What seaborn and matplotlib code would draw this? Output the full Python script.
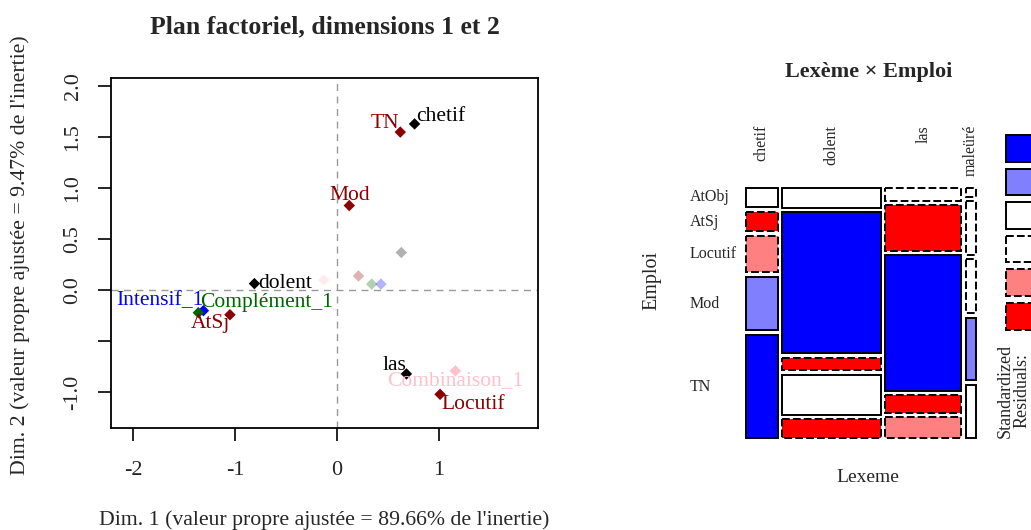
import matplotlib
matplotlib.use("Agg")
import matplotlib.pyplot as plt
import seaborn as sns
import pandas as pd
from matplotlib.patches import Rectangle

# --- plan factoriel (dimensions 1 et 2) ---
point_names = ["chetif", "dolent", "las", "maleüré",
               "TN", "Mod", "AtSj", "Locutif", "AtObj",
               "Intensif_1", "Intensif_0",
               "Complément_1", "Complément_0",
               "Combinaison_1", "Combinaison_0"]
point_groups = (["Lexeme"] * 4 + ["Emploi"] * 5 + ["Intensif"] * 2
                + ["Complement"] * 2 + ["Combinaison"] * 2)
dim1 = [0.76, -0.81, 0.68, 0.63, 0.62, 0.12, -1.05, 1.01, 0.21,
        -1.31, 0.43, -1.36, 0.34, 1.16, -0.13]
dim2 = [1.63, 0.065, -0.82, 0.37, 1.55, 0.83, -0.24, -1.02, 0.14,
        -0.20, 0.06, -0.22, 0.06, -0.79, 0.10]
labelled = [True, True, True, False, True, True, True, True, False,
            True, False, True, False, True, False]

x_ticks = [-2, -1, 0, 1]
y_ticks = [-1.0, -0.5, 0.0, 0.5, 1.0, 1.5, 2.0]
y_tick_labels = ["-1.0", "", "0.0", "0.5", "1.0", "1.5", "2.0"]

# --- mosaique Lexeme x Emploi ---
lexemes = ["chetif", "dolent", "las", "maleüré"]
emplois = ["AtObj", "AtSj", "Locutif", "Mod", "TN"]
counts = {
    "chetif": [7, 7, 13, 19, 37],
    "dolent": [22, 156, 14, 44, 21],
    "las": [11, 39, 116, 15, 18],
    "maleüré": [1, 6, 6, 7, 6],
}
residuals = {
    "chetif": [0.8, -4.3, -2.6, 2.9, 6.1],
    "dolent": [1.2, 6.8, -5.9, 1.1, -4.6],
    "las": [-1.0, -4.4, 8.2, -4.1, -2.5],
    "maleüré": [-0.3, -0.9, -1.2, 2.3, 1.0],
}
legend_levels = [5, 3, 1, -1, -3, -5]

palette = {"Lexeme": "black", "Emploi": "#8B0000", "Intensif": "#0000FF",
           "Complement": "#006400", "Combinaison": "#FFC0CB"}

# placement des etiquettes (decalage en points, alignement)
label_pos = {
    "chetif": ((1, 5), "left"),
    "dolent": ((2.5, 0), "left"),
    "las": ((0, 6), "right"),
    "TN": ((-1, 6), "right"),
    "Mod": ((0, 7), "center"),
    "AtSj": ((0, -6), "right"),
    "Locutif": ((1, -7), "left"),
    "Intensif_1": ((0, 7), "right"),
    "Complément_1": ((1, 7), "left"),
    "Combinaison_1": ((0, -7), "center"),
}

sns.set_style("ticks")
plt.rcParams["font.family"] = ["Liberation Serif", "DejaVu Serif"]

W, H = 1031, 530
fig = plt.figure(figsize=(W / 100, H / 100), dpi=100)


def fx(px):
    return px / W


def fy(py):
    return 1 - py / H


df = pd.DataFrame({"name": point_names, "group": point_groups,
                   "dim1": dim1, "dim2": dim2, "labelled": labelled})

ax = fig.add_axes([fx(111), fy(428), fx(538) - fx(111), fy(78) - fy(428)])
ax.axhline(0, color="#999999", lw=1, ls=(0, (5, 4)), zorder=0)
ax.axvline(0, color="#999999", lw=1, ls=(0, (5, 4)), zorder=0)
sns.scatterplot(data=df[~df["labelled"]], x="dim1", y="dim2", hue="group",
                palette=palette, marker="D", s=34, linewidth=0, alpha=0.3,
                legend=False, ax=ax)
sns.scatterplot(data=df[df["labelled"]], x="dim1", y="dim2", hue="group",
                palette=palette, marker="D", s=34, linewidth=0,
                legend=False, ax=ax)
for _, row in df[df["labelled"]].iterrows():
    off, ha = label_pos[row["name"]]
    ax.annotate(row["name"], (row["dim1"], row["dim2"]), xytext=off,
                textcoords="offset points", ha=ha, va="center",
                fontsize=15.5, color=palette[row["group"]])

ax.set_xlim(-2.216, 1.97)
ax.set_ylim(-1.35, 2.08)
ax.set_xticks(x_ticks)
ax.set_xticklabels([str(t) for t in x_ticks])
ax.set_yticks(y_ticks)
ax.set_yticklabels(y_tick_labels, rotation=90, va="center")
ax.tick_params(axis="both", length=9.5, width=1.2, labelsize=16, color="black")
ax.tick_params(axis="x", pad=14)
ax.tick_params(axis="y", pad=11)
for s in ax.spines.values():
    s.set_linewidth(1.3)
    s.set_color("black")
ax.set_xlabel("")
ax.set_ylabel("")
fig.text(fx(325), fy(27), "Plan factoriel, dimensions 1 et 2", ha="center",
         va="center", fontsize=18.5, fontweight="bold")
fig.text(fx(324), fy(520), "Dim. 1 (valeur propre ajustée = 89.66% de l'inertie)",
         ha="center", va="center", fontsize=15.7)
fig.text(fx(20), fy(255), "Dim. 2 (valeur propre ajustée = 9.47% de l'inertie)",
         ha="center", va="center", rotation=90, fontsize=15.7)


# --- mosaique ---
def shade(r):
    if r > 4:
        return "#0000FF", "-"
    if r > 2:
        return "#8080FF", "-"
    if r >= 0:
        return "white", "-"
    if r > -2:
        return "white", (0, (4, 1.6))
    if r > -4:
        return "#FF8080", (0, (4, 1.6))
    return "#FF0000", (0, (4, 1.6))


mx0, mx1, my0, my1 = 745.7, 975.7, 187.7, 438.3
max_ = fig.add_axes([fx(mx0), fy(my1), fx(mx1) - fx(mx0), fy(my0) - fy(my1)])
max_.set_xlim(0, 1)
max_.set_ylim(1, 0)
max_.axis("off")

gap_x, gap_y = 0.0188, 0.0186
totals = [sum(counts[l]) for l in lexemes]
grand = sum(totals)
avail_x = 1 - gap_x * (len(lexemes) - 1)
avail_y = 1 - gap_y * (len(emplois) - 1)
x = 0
row_centres = []
col_centres = []
for i, lex in enumerate(lexemes):
    w = avail_x * totals[i] / grand
    y = 0
    for j, emp in enumerate(emplois):
        h = avail_y * counts[lex][j] / totals[i]
        fc, ls = shade(residuals[lex][j])
        max_.add_patch(Rectangle((x, y), w, h, facecolor=fc, edgecolor="black",
                                 lw=1.4, ls=ls, clip_on=False))
        if i == 0:
            row_centres.append(y + h / 2)
        y += h + gap_y
    col_centres.append(x + w / 2)
    x += w + gap_x

for lex, c in zip(lexemes, col_centres):
    fig.text(fx(mx0 + c * (mx1 - mx0)), fy(125), lex, rotation=90,
             ha="center", va="top", fontsize=11.5)
for emp, c in zip(emplois, row_centres):
    fig.text(fx(690), fy(my0 + c * (my1 - my0)), emp, ha="left",
             va="center", fontsize=11.5)

fig.text(fx(869), fy(72), "Lexème × Emploi", ha="center", va="center",
         fontsize=16, fontweight="bold")
fig.text(fx(868), fy(477), "Lexeme", ha="center", va="center", fontsize=14)
fig.text(fx(652), fy(280), "Emploi", ha="center", va="center",
         rotation=90, fontsize=14.5)

# legende des residus (coupee au bord droit, comme l'original)
lax = fig.add_axes([fx(1005.7), fy(329.5), 40 / W, (329.5 - 135) / H])
lax.set_xlim(0, 40 / 27)
lax.set_ylim(5.8, 0)
lax.axis("off")
for k, lv in enumerate(legend_levels):
    fc, ls = shade(lv)
    lax.add_patch(Rectangle((0, k), 1, 0.8, facecolor=fc, edgecolor="black",
                            lw=1.4, ls=ls, clip_on=False))
fig.text(fx(1014), fy(438), "Standardized\nResiduals:", rotation=90,
         ha="center", va="bottom", fontsize=13, linespacing=1.0)

fig.savefig("out.png", dpi=100)
